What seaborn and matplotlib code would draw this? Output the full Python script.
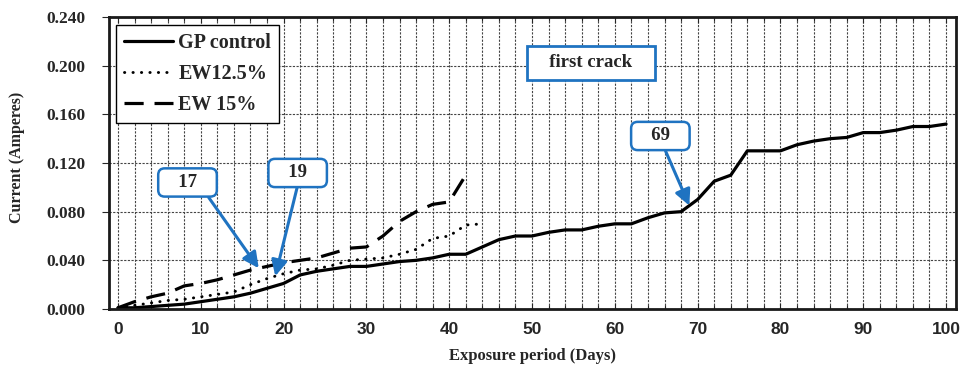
import numpy as np
import pandas as pd
import matplotlib
matplotlib.use("Agg")
import matplotlib.pyplot as plt
from matplotlib.ticker import MultipleLocator
from matplotlib.font_manager import FontProperties
import seaborn as sns

# ---- data -------------------------------------------------------------
gp_days = list(range(0, 101, 2))
gp_current = [0.001, 0.001, 0.002, 0.003, 0.004, 0.006, 0.008, 0.010, 0.013, 0.017,
              0.021, 0.028, 0.031, 0.033, 0.035, 0.035, 0.037, 0.039, 0.040, 0.042,
              0.045, 0.045, 0.051, 0.057, 0.060, 0.060, 0.063, 0.065, 0.065, 0.068,
              0.070, 0.070, 0.075, 0.079, 0.080, 0.090, 0.105, 0.110, 0.130, 0.130,
              0.130, 0.135, 0.138, 0.140, 0.141, 0.145, 0.145, 0.147, 0.150, 0.150,
              0.152]

ew125_days = list(range(0, 45, 2))
ew125_current = [0.001, 0.003, 0.005, 0.007, 0.008, 0.010, 0.012, 0.014, 0.020, 0.025,
                 0.029, 0.032, 0.033, 0.036, 0.040, 0.041, 0.042, 0.045, 0.049, 0.058,
                 0.060, 0.069, 0.070]

ew15_days = list(range(0, 43, 2))
ew15_current = [0.001, 0.006, 0.010, 0.013, 0.019, 0.021, 0.024, 0.028, 0.032, 0.035,
                0.038, 0.040, 0.042, 0.046, 0.050, 0.051, 0.060, 0.072, 0.080, 0.086,
                0.088, 0.110]

series_labels = ["GP control", "EW12.5%", "EW 15%"]
y_ticks = [0.000, 0.040, 0.080, 0.120, 0.160, 0.200, 0.240]
x_ticks = [0, 10, 20, 30, 40, 50, 60, 70, 80, 90, 100]

first_crack = [("17", 17, "EW 15%"), ("19", 19, "EW12.5%"), ("69", 69, "GP control")]

# ---- style ------------------------------------------------------------
sns.set_style("ticks")
plt.rcParams["font.family"] = ["Liberation Serif", "DejaVu Serif"]

serif_b = dict(family=["Liberation Serif", "DejaVu Serif"], weight="bold")
blue = "#1F73C1"
grid_col = "#444444"

fig = plt.figure(figsize=(9.64, 3.69), dpi=100)
ax = fig.add_axes([0.113, 0.1626, 0.8787, 0.7913])

frames = {
    "GP control": pd.DataFrame({"day": gp_days, "current": gp_current}),
    "EW12.5%": pd.DataFrame({"day": ew125_days, "current": ew125_current}),
    "EW 15%": pd.DataFrame({"day": ew15_days, "current": ew15_current}),
}

sns.lineplot(data=frames["GP control"], x="day", y="current", ax=ax,
             color="black", lw=2.3, label=series_labels[0])
sns.lineplot(data=frames["EW12.5%"], x="day", y="current", ax=ax,
             color="black", lw=2.1, label=series_labels[1])
sns.lineplot(data=frames["EW 15%"], x="day", y="current", ax=ax,
             color="black", lw=2.3, label=series_labels[2])

lines = ax.get_lines()
lines[1].set_dashes((0.1, 2.8))
lines[1].set_dash_capstyle("round")
lines[2].set_dashes((6.0, 3.4))
lines[2].set_dash_capstyle("butt")
lines[0].set_solid_joinstyle("round")

# ---- axes ---------------------------------------------------------------
ax.set_xlim(-1.09, 101.2)
ax.set_ylim(0, 0.24)
ax.xaxis.set_major_locator(MultipleLocator(10))
ax.xaxis.set_minor_locator(MultipleLocator(2))
ax.set_xticks(x_ticks)
ax.set_xticklabels([str(v) for v in x_ticks])
ax.set_yticks(y_ticks)
ax.set_yticklabels([f"{v:.3f}" for v in y_ticks])

ax.set_axisbelow(True)
ax.grid(which="both", axis="x", color=grid_col, lw=0.8, linestyle=(0, (2.0, 1.3)))
ax.grid(which="major", axis="y", color=grid_col, lw=0.8, linestyle=(0, (2.0, 1.3)))

for side in ["left", "right", "top", "bottom"]:
    ax.spines[side].set_visible(True)
    ax.spines[side].set_linewidth(2.0)
    ax.spines[side].set_color("#1a1a1a")

ax.tick_params(axis="x", which="major", direction="in", length=4, width=0.8,
               pad=9, top=True)
ax.tick_params(axis="x", which="minor", direction="in", length=3, width=0.8, top=True)
ax.tick_params(axis="y", which="major", direction="out", length=5, width=0.8, pad=12)

for lab in ax.get_xticklabels():
    lab.set_fontproperties(FontProperties(family=["Liberation Sans Narrow", "Liberation Sans"],
                                          weight="bold", size=12.5))
for lab in ax.get_yticklabels():
    lab.set_fontproperties(FontProperties(**serif_b, size=12.5))

ax.set_xlabel("Exposure period (Days)", fontsize=12, **serif_b, labelpad=8)
ax.set_ylabel("Current (Amperes)", fontsize=11.5, **serif_b)
ax.yaxis.set_label_coords(-0.099, 0.52)

# ---- legend -------------------------------------------------------------
leg = ax.legend(loc="upper left", bbox_to_anchor=(0.0083, 0.9726), borderaxespad=0,
                prop=FontProperties(**serif_b, size=14.5), frameon=True, fancybox=False,
                edgecolor="black", framealpha=1, handlelength=2.45, handletextpad=0.25,
                labelspacing=0.55, borderpad=0.4)
leg.get_frame().set_linewidth(1.0)

# ---- callouts -----------------------------------------------------------
series_xy = {"GP control": (gp_days, gp_current),
             "EW12.5%": (ew125_days, ew125_current),
             "EW 15%": (ew15_days, ew15_current)}
box_pos = {"17": (8.4, 0.104, 0.85), "19": (21.7, 0.1118, 0.52), "69": (65.5, 0.1422, 0.55)}

for text, day, name in first_crack:
    d, v = series_xy[name]
    yv = float(np.interp(day, d, v))
    tx, ty, rx = box_pos[text]
    ax.annotate("   " + text + "   ", xy=(day, yv), xytext=(tx, ty),
                ha="center", va="center", fontsize=13.5, **serif_b,
                bbox=dict(boxstyle="round,pad=0.3,rounding_size=0.35",
                          fc="white", ec=blue, lw=1.8),
                arrowprops=dict(arrowstyle="-|>,head_length=0.7,head_width=0.35",
                                color=blue, lw=2.2, shrinkA=0, shrinkB=0,
                                relpos=(rx, 0)),
                zorder=5)

ax.text(57.1, 0.2022, "   first crack   ", ha="center", va="center",
        fontsize=13.5, **serif_b,
        bbox=dict(boxstyle="square,pad=0.45", fc="white", ec=blue, lw=2.0), zorder=5)

fig.savefig("out.png", dpi=100)
